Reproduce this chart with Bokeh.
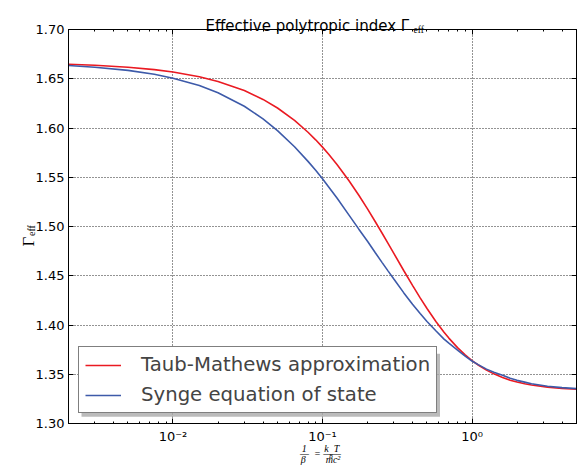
import math
from bokeh.plotting import figure
from bokeh.models import (Range1d, FixedTicker, LogAxis, LinearAxis, CustomJSTickFormatter,
                          PrintfTickFormatter, Legend, LegendItem, Label, BoxAnnotation)
from bokeh.embed import file_html
from bokeh.resources import INLINE

# ---------------- data ----------------
theta = [0.002, 0.003, 0.005, 0.0075, 0.01, 0.015, 0.02, 0.03, 0.04, 0.05,
         0.065, 0.08, 0.09, 0.1, 0.11, 0.125, 0.15, 0.175, 0.2, 0.225,
         0.25, 0.275, 0.3, 0.35, 0.4, 0.45, 0.5, 0.575, 0.65, 0.7,
         0.8, 0.9, 1.0, 1.1, 1.25, 1.4, 1.6, 1.8, 2.0, 2.25,
         2.5, 3.2, 4.0, 5.0]
gamma_taub = [1.6647, 1.6637, 1.6617, 1.6593, 1.6568, 1.6520, 1.6473, 1.6380, 1.6290, 1.6203,
              1.6077, 1.5957, 1.5880, 1.5806, 1.5733, 1.5629, 1.5467, 1.5317, 1.5179, 1.5051,
              1.4934, 1.4826, 1.4727, 1.4551, 1.4402, 1.4275, 1.4167, 1.4033, 1.3926, 1.3867,
              1.3770, 1.3696, 1.3639, 1.3594, 1.3542, 1.3504, 1.3467, 1.3440, 1.3421, 1.3403,
              1.3391, 1.3369, 1.3356, 1.3348]
gamma_synge = [1.6634, 1.6617, 1.6585, 1.6545, 1.6506, 1.6431, 1.6358, 1.6221, 1.6093, 1.5974,
               1.5810, 1.5661, 1.5570, 1.5484, 1.5402, 1.5289, 1.5118, 1.4973, 1.4850, 1.4736,
               1.4636, 1.4547, 1.4467, 1.4326, 1.4211, 1.4117, 1.4036, 1.3939, 1.3857, 1.3815,
               1.3746, 1.3685, 1.3634, 1.3598, 1.3552, 1.3520, 1.3490, 1.3460, 1.3438, 1.3420,
               1.3404, 1.3378, 1.3364, 1.3354]
series_labels = ["Taub-Mathews approximation", "Synge equation of state"]
x_major = [0.01, 0.1, 1.0]
x_minor = [m * d for d in (0.001, 0.01, 0.1, 1.0) for m in range(2, 10)]
y_ticks = [1.30, 1.35, 1.40, 1.45, 1.50, 1.55, 1.60, 1.65, 1.70]

X0, X1 = 0.002, 5.0
Y0, Y1 = 1.30, 1.70
W, H = 585, 474
BL, BR, BT, BB = 68, 9, 29, 51
FW, FH = W - BL - BR, H - BT - BB

RED = "#ea1a22"
BLUE = "#3d5aa9"
NB = "\u00a0"


def dx(sx):
    return 10 ** (math.log10(X0) + (sx - BL) / FW * math.log10(X1 / X0))


def dy(sy):
    return Y1 - (sy - BT) / FH * (Y1 - Y0)


p = figure(width=W, height=H, x_axis_type="log",
           x_range=Range1d(X0, X1), y_range=Range1d(Y0, Y1),
           output_backend="svg", toolbar_location=None,
           min_border_left=BL, min_border_right=BR, min_border_top=BT, min_border_bottom=BB,
           background_fill_color="white", border_fill_color="white")
p.title.visible = False
p.outline_line_color = "black"
p.outline_line_width = 1

sup_code = """
const sup = {"-": "\u207b", "0": "\u2070", "1": "\u00b9", "2": "\u00b2", "3": "\u00b3",
             "4": "\u2074", "5": "\u2075", "6": "\u2076", "7": "\u2077", "8": "\u2078", "9": "\u2079"};
const e = Math.round(Math.log10(tick));
return "10" + String(e).split("").map(c => sup[c]).join("");
"""

xax = p.xaxis[0]
xax.ticker = FixedTicker(ticks=x_major, minor_ticks=x_minor)
xax.formatter = CustomJSTickFormatter(code=sup_code)
yax = p.yaxis[0]
yax.ticker = FixedTicker(ticks=y_ticks, minor_ticks=[])
yax.formatter = PrintfTickFormatter(format="%.2f")

for ax in (xax, yax):
    ax.major_tick_in = 5
    ax.major_tick_out = 0
    ax.minor_tick_in = 2
    ax.minor_tick_out = 0
    ax.axis_line_color = "black"
    ax.major_tick_line_color = "black"
    ax.minor_tick_line_color = "black"
    ax.major_label_text_font = "DejaVu Sans"
    ax.major_label_text_font_size = "13px"
    ax.major_label_text_color = "black"
xax.major_label_standoff = 5
yax.major_label_standoff = 4

blank = CustomJSTickFormatter(code="return '';")
top = LogAxis(ticker=FixedTicker(ticks=x_major, minor_ticks=x_minor), formatter=blank,
              major_tick_in=5, major_tick_out=0, minor_tick_in=2, minor_tick_out=0,
              axis_line_color="black", major_label_text_font_size="1px", major_label_standoff=0)
right = LinearAxis(ticker=FixedTicker(ticks=y_ticks, minor_ticks=[]), formatter=blank,
                   major_tick_in=5, major_tick_out=0, minor_tick_in=0, minor_tick_out=0,
                   axis_line_color="black", major_label_text_font_size="1px", major_label_standoff=0)
p.add_layout(top, "above")
p.add_layout(right, "right")

p.xgrid.ticker = FixedTicker(ticks=x_major)
p.ygrid.ticker = FixedTicker(ticks=y_ticks)
for g in (p.xgrid, p.ygrid):
    g.grid_line_color = "black"
    g.grid_line_dash = "1 2"
    g.grid_line_width = 1
    g.grid_line_alpha = 0.85

r1 = p.line(theta, gamma_taub, line_color=RED, line_width=1.6)
r2 = p.line(theta, gamma_synge, line_color=BLUE, line_width=1.6)

# legend shadow
p.add_layout(BoxAnnotation(left=dx(81), right=dx(439.5), top=dy(353.3), bottom=dy(416.3),
                           fill_color="#aaaaaa", fill_alpha=0.8, line_alpha=0, level="annotation"))

legend = Legend(items=[LegendItem(label=series_labels[0], renderers=[r1]),
                       LegendItem(label=series_labels[1], renderers=[r2])],
                location=(10, 10), padding=6, spacing=7, glyph_width=36, glyph_height=22,
                label_height=22, label_standoff=20,
                label_text_font="DejaVu Sans", label_text_font_size="19.7px",
                border_line_color="black", border_line_width=1,
                background_fill_color="white", background_fill_alpha=1)
p.add_layout(legend)


def lab(place, sx, sy, txt, size, font="Liberation Serif", style="normal", align="left",
        angle=0.0, lh=1.2):
    p.add_layout(Label(x=dx(sx), y=dy(sy), text=txt, text_font=font, text_font_size=size,
                       text_font_style=style, text_align=align, text_baseline="alphabetic",
                       text_color="black", angle=angle, text_line_height=lh), place)


# title: "Effective polytropic index Γ_eff"
lab("above", 205, 25.3, "Effective polytropic index \u0393", "15px", font="DejaVu Sans")
lab("above", 413, 29, "eff", "9.5px")

# y axis label "Γ_eff" (rotated)
lab("left", 28, 246, "\u0393", "17px", angle=math.pi / 2)
lab("left", 31, 235.5, "eff", "10px", angle=math.pi / 2)

# x axis label: 1/β = k_B T / m c²  (three stacked lines + subscript B)
xl_num = "1" + NB * 7 + "k" + NB * 2 + "T"
xl_bar = "\u2014" + NB * 2 + "=" + NB + "\u2014\u2014"
xl_den = "\u03b2" + NB * 8 + "mc\u00b2"
lab("below", 320, 453.5, "\n".join([xl_num, xl_bar, xl_den]), "10px",
    style="italic", align="center", lh=0.47)
lab("right", 328.5, 455.5, "B", "6px", style="italic")

open("out.html", "w").write(file_html(p, INLINE))
